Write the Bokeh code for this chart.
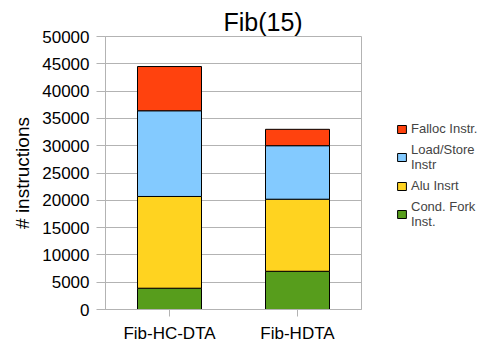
from bokeh.plotting import figure
from bokeh.layouts import row
from bokeh.models import ColumnDataSource, FactorRange, Range1d, Legend, LegendItem, SingleIntervalTicker
from bokeh.embed import file_html
from bokeh.resources import INLINE

# Instruction counts per benchmark variant, stacked bottom to top
categories = ["Fib-HC-DTA", "Fib-HDTA"]
cond_fork = [3900, 7000]
alu = [16800, 13200]
load_store = [15700, 9800]
falloc = [8100, 3000]

series_keys = ["cond_fork", "alu", "load_store", "falloc"]
series_labels = ["Cond. Fork\nInst.", "Alu Insrt", "Load/Store\nInstr", "Falloc Instr."]
colors = ["#579d1c", "#ffd320", "#83caff", "#ff420e"]

source = ColumnDataSource(data=dict(
    cat=categories,
    cond_fork=cond_fork,
    alu=alu,
    load_store=load_store,
    falloc=falloc,
))

FONT = "Liberation Sans"
GRID = "#b3b3b3"

p = figure(
    width=371, height=345,
    x_range=FactorRange(*categories, range_padding=0),
    y_range=Range1d(0, 50000),
    output_backend="svg", toolbar_location=None,
    min_border_left=105, min_border_right=10,
    min_border_top=36, min_border_bottom=36,
)

p.vbar_stack(
    series_keys, x="cat", width=0.5, color=colors, source=source,
    line_color="black", line_width=1,
)

# Title
p.title.text = "Fib(15)"
p.title.text_font = FONT
p.title.text_font_size = "25px"
p.title.text_font_style = "normal"
p.title.text_color = "black"
p.title.align = "left"
p.title.offset = 118
p.title.standoff = 2

# Axes
p.yaxis.ticker = SingleIntervalTicker(interval=5000)
p.yaxis.axis_label = "# instructions"
p.yaxis.axis_label_text_font = FONT
p.yaxis.axis_label_text_font_size = "19px"
p.yaxis.axis_label_text_font_style = "normal"
p.yaxis.axis_label_text_color = "black"
p.yaxis.axis_label_standoff = 6

for ax in (p.xaxis[0], p.yaxis[0]):
    ax.axis_line_color = GRID
    ax.major_tick_line_color = GRID
    ax.minor_tick_line_color = None
    ax.major_tick_in = 0
    ax.major_label_text_font = FONT
    ax.major_label_text_font_size = "17px"
    ax.major_label_text_color = "black"
    ax.major_label_standoff = 7

p.yaxis.major_tick_out = 9
p.xaxis.major_tick_out = 7

p.xgrid.grid_line_color = None
p.ygrid.grid_line_color = GRID
p.outline_line_color = GRID

# Legend panel beside the chart, top series first.
# Its stacked renderers are hidden and only supply the legend swatches.
lp = figure(
    width=126, height=345,
    x_range=FactorRange(*categories), y_range=Range1d(0, 50000),
    output_backend="svg", toolbar_location=None,
    min_border=0,
)
lp.axis.visible = False
lp.grid.grid_line_color = None
lp.outline_line_color = None

swatches = lp.vbar_stack(
    series_keys, x="cat", width=0.5, color=colors, source=source,
    line_color="black", line_width=1,
)
for r in swatches:
    r.visible = False

items = [LegendItem(label=lab, renderers=[r]) for lab, r in zip(series_labels, swatches)]

legend = Legend(
    items=list(reversed(items)),
    location=(25, 80),
    border_line_color=None,
    background_fill_alpha=0,
    inactive_fill_alpha=0,
    padding=0, margin=0, spacing=6,
    glyph_width=11, glyph_height=10,
    label_standoff=4,
    label_text_font=FONT,
    label_text_font_size="13px",
    label_text_line_height=1.05,
)
lp.add_layout(legend)

layout = row(p, lp)
open("out.html", "w").write(file_html(layout, INLINE))
